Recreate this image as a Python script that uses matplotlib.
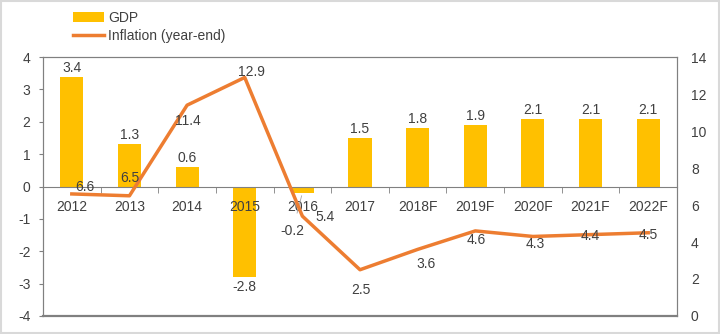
import matplotlib.pyplot as plt
from matplotlib.patches import Rectangle

plt.rcParams['font.family'] = ['Liberation Sans', 'DejaVu Sans']
plt.rcParams['axes.unicode_minus'] = False

years = ["2012", "2013", "2014", "2015", "2016", "2017",
         "2018F", "2019F", "2020F", "2021F", "2022F"]
gdp = [3.4, 1.3, 0.6, -2.8, -0.2, 1.5, 1.8, 1.9, 2.1, 2.1, 2.1]
inflation = [6.6, 6.5, 11.4, 12.9, 5.4, 2.5, 3.6, 4.6, 4.3, 4.4, 4.5]

# label offsets (pixels) for the data labels
gdp_offsets = [(0, 9), (0, 9), (0, 9), (0, -10), (-10, -38), (0, 9),
               (0, 9), (0, 9), (0, 9), (0, 9), (0, 9)]
infl_offsets = [(13, 7), (0, 18), (1, -16), (7, 5), (23, -1), (1, -20),
                (8, -15), (1, -9), (2, -8), (0, -1), (0, -2)]

gdp_color = "#FFC000"
infl_color = "#ED7D31"
text_color = "#404040"
frame_color = "#808080"

fig = plt.figure(figsize=(7.2, 3.34), dpi=100)
ax = fig.add_axes([0.0597, 0.054, 0.8806, 0.775])
ax2 = ax.twinx()

x = list(range(len(years)))
ax.bar(x, gdp, width=0.4, color=gdp_color, label="GDP", zorder=1)
ax.set_xlim(-0.5, len(years) - 0.5)
ax.set_ylim(-4, 4)
ax.set_yticks(range(-4, 5))

for xi, v, (dx, dy) in zip(x, gdp, gdp_offsets):
    props = None
    if abs(dx) > 5:
        props = dict(arrowstyle="-", color="#A6A6A6", lw=0.6, shrinkA=6, shrinkB=2)
    ax.annotate(f"{v:.1f}", (xi, v), xytext=(dx, dy), textcoords="offset pixels",
                ha="center", va="center", fontsize=10, color=text_color, zorder=5,
                arrowprops=props)

ax2.plot(x, inflation, color=infl_color, lw=2.5, label="Inflation (year-end)", zorder=3)
ax2.set_ylim(0, 14)
ax2.set_yticks(range(0, 15, 2))
for xi, v, (dx, dy) in zip(x, inflation, infl_offsets):
    ax2.annotate(f"{v:.1f}", (xi, v), xytext=(dx, dy), textcoords="offset pixels",
                 ha="center", va="center", fontsize=10, color=text_color, zorder=5)

# x axis sits on the zero line
ax.spines["bottom"].set_position(("data", 0))
ax.set_xticks(x)
ax.set_xticklabels(years)
ax.set_xticks([i + 0.5 for i in x[:-1]], minor=True)
ax.tick_params(axis="x", which="major", length=0, pad=10, labelsize=10, labelcolor=text_color)
ax.tick_params(axis="x", which="minor", length=4, direction="out", color=frame_color)
ax.tick_params(axis="y", length=3, color=frame_color, labelsize=10, labelcolor=text_color, pad=6)
ax2.tick_params(axis="y", length=0, labelsize=10, labelcolor=text_color, pad=10)
for lbl in ax.get_xticklabels():
    lbl.set_zorder(4)

for sp in ["top", "left", "right"]:
    ax.spines[sp].set_color(frame_color)
    ax2.spines[sp].set_color(frame_color)
ax.spines["bottom"].set_color(frame_color)
ax2.spines["bottom"].set_visible(False)
ax.axhline(-4, color=frame_color, lw=1.6, clip_on=False)

h1, l1 = ax.get_legend_handles_labels()
h2, l2 = ax2.get_legend_handles_labels()
fig.legend(h1 + h2, l1 + l2, loc="upper left", bbox_to_anchor=(0.086, 1.0),
           frameon=False, fontsize=10, labelcolor=text_color, handlelength=2.2,
           handleheight=0.7, handletextpad=0.3, labelspacing=0.3, borderpad=0.3)

fig.patches.append(Rectangle((0.002, 0.003), 0.996, 0.994, transform=fig.transFigure,
                             fill=False, edgecolor="#D9D9D9", lw=1.5))

fig.savefig("out.png", dpi=100)
